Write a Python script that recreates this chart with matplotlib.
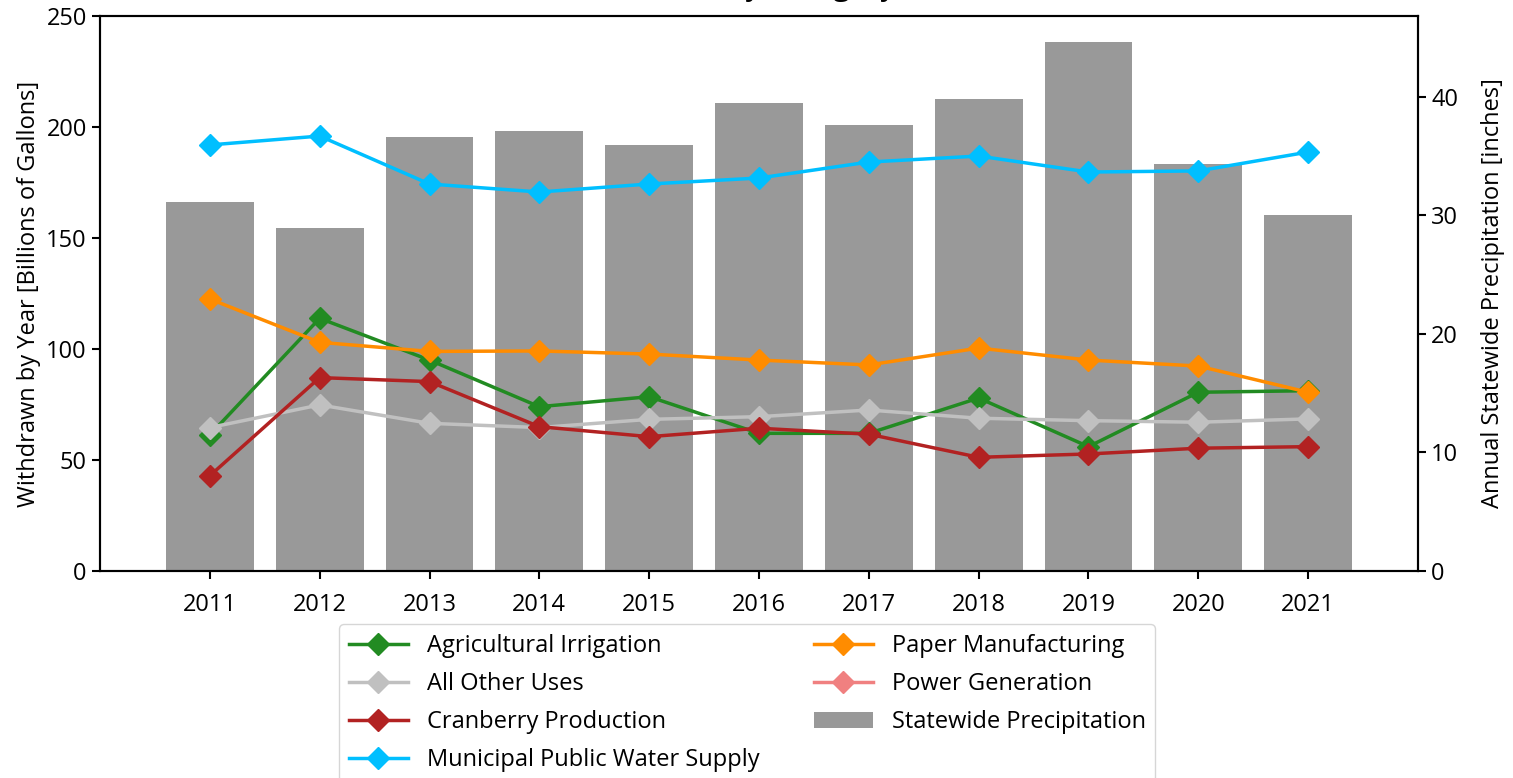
import matplotlib
matplotlib.use('Agg')
import matplotlib.pyplot as plt

plt.rcParams['font.family'] = ['Open Sans', 'DejaVu Sans']

years = [2011, 2012, 2013, 2014, 2015, 2016, 2017, 2018, 2019, 2020, 2021]

# withdrawals, billions of gallons
agricultural = [61.3, 113.8, 95.0, 74.0, 78.5, 62.0, 62.0, 77.9, 56.0, 80.5, 81.2]
other_uses = [64.6, 74.8, 66.5, 64.6, 68.3, 69.5, 72.5, 68.8, 67.7, 67.0, 68.5]
cranberry = [42.9, 87.1, 85.3, 65.0, 60.5, 64.3, 61.6, 51.2, 52.7, 55.3, 56.0]
municipal = [191.9, 195.9, 174.3, 170.7, 174.3, 177.0, 184.2, 186.9, 179.7, 180.2, 188.7]
paper = [122.5, 103.0, 98.9, 99.1, 97.7, 95.0, 92.8, 100.4, 95.0, 92.3, 80.5]
power = [1480, 1420, 1390, 1350, 1330, 1360, 1300, 1280, 1250, 1270, 1290]  # off the top of the chart

# statewide precipitation, inches
precip = [31.1, 28.9, 36.6, 37.1, 35.9, 39.5, 37.6, 39.8, 44.6, 34.3, 30.0]

series = [
    ('Agricultural Irrigation', agricultural, 'forestgreen'),
    ('All Other Uses', other_uses, 'silver'),
    ('Cranberry Production', cranberry, 'firebrick'),
    ('Municipal Public Water Supply', municipal, 'deepskyblue'),
    ('Paper Manufacturing', paper, 'darkorange'),
    ('Power Generation', power, 'lightcoral'),
]

fs = 17

fig = plt.figure(figsize=(15.13, 7.78), dpi=100)
ax = fig.add_axes([0.0661, 0.2661, 0.8711, 0.7134])
ax2 = ax.twinx()

bars = ax2.bar(years, precip, width=0.8, color='#999999',
               label='Statewide Precipitation')
ax2.set_ylim(0, max(precip) * 1.05)
ax2.set_ylabel('Annual Statewide Precipitation [inches]', fontsize=fs,
               labelpad=16)
ax2.tick_params(labelsize=fs, width=1.5, length=6)

handles = []
for name, vals, col in series:
    line, = ax.plot(years, vals, color=col, lw=2.5, marker='D',
                    markersize=11, label=name)
    handles.append(line)
handles.append(bars)

ax.set_zorder(ax2.get_zorder() + 1)
ax.patch.set_visible(False)

ax.set_ylim(0, 250)
ax.set_xlim(2010, 2022)
ax.set_xticks(years)
ax.set_ylabel('Withdrawn by Year [Billions of Gallons]', fontsize=fs)
ax.tick_params(labelsize=fs, width=1.5, length=6)
ax.tick_params(axis='x', pad=10)
for a in (ax, ax2):
    for sp in a.spines.values():
        sp.set_linewidth(1.5)

ax.set_title('Wisconsin Water Withdrawals by Category and Statewide Rainfall',
             fontsize=22, pad=15)

ax.legend(handles=handles, loc='upper center', bbox_to_anchor=(0.491, -0.075),
          ncol=2, fontsize=fs, columnspacing=2.3, handlelength=2.5,
          labelspacing=0.6)

fig.savefig('out.png', dpi=100)
